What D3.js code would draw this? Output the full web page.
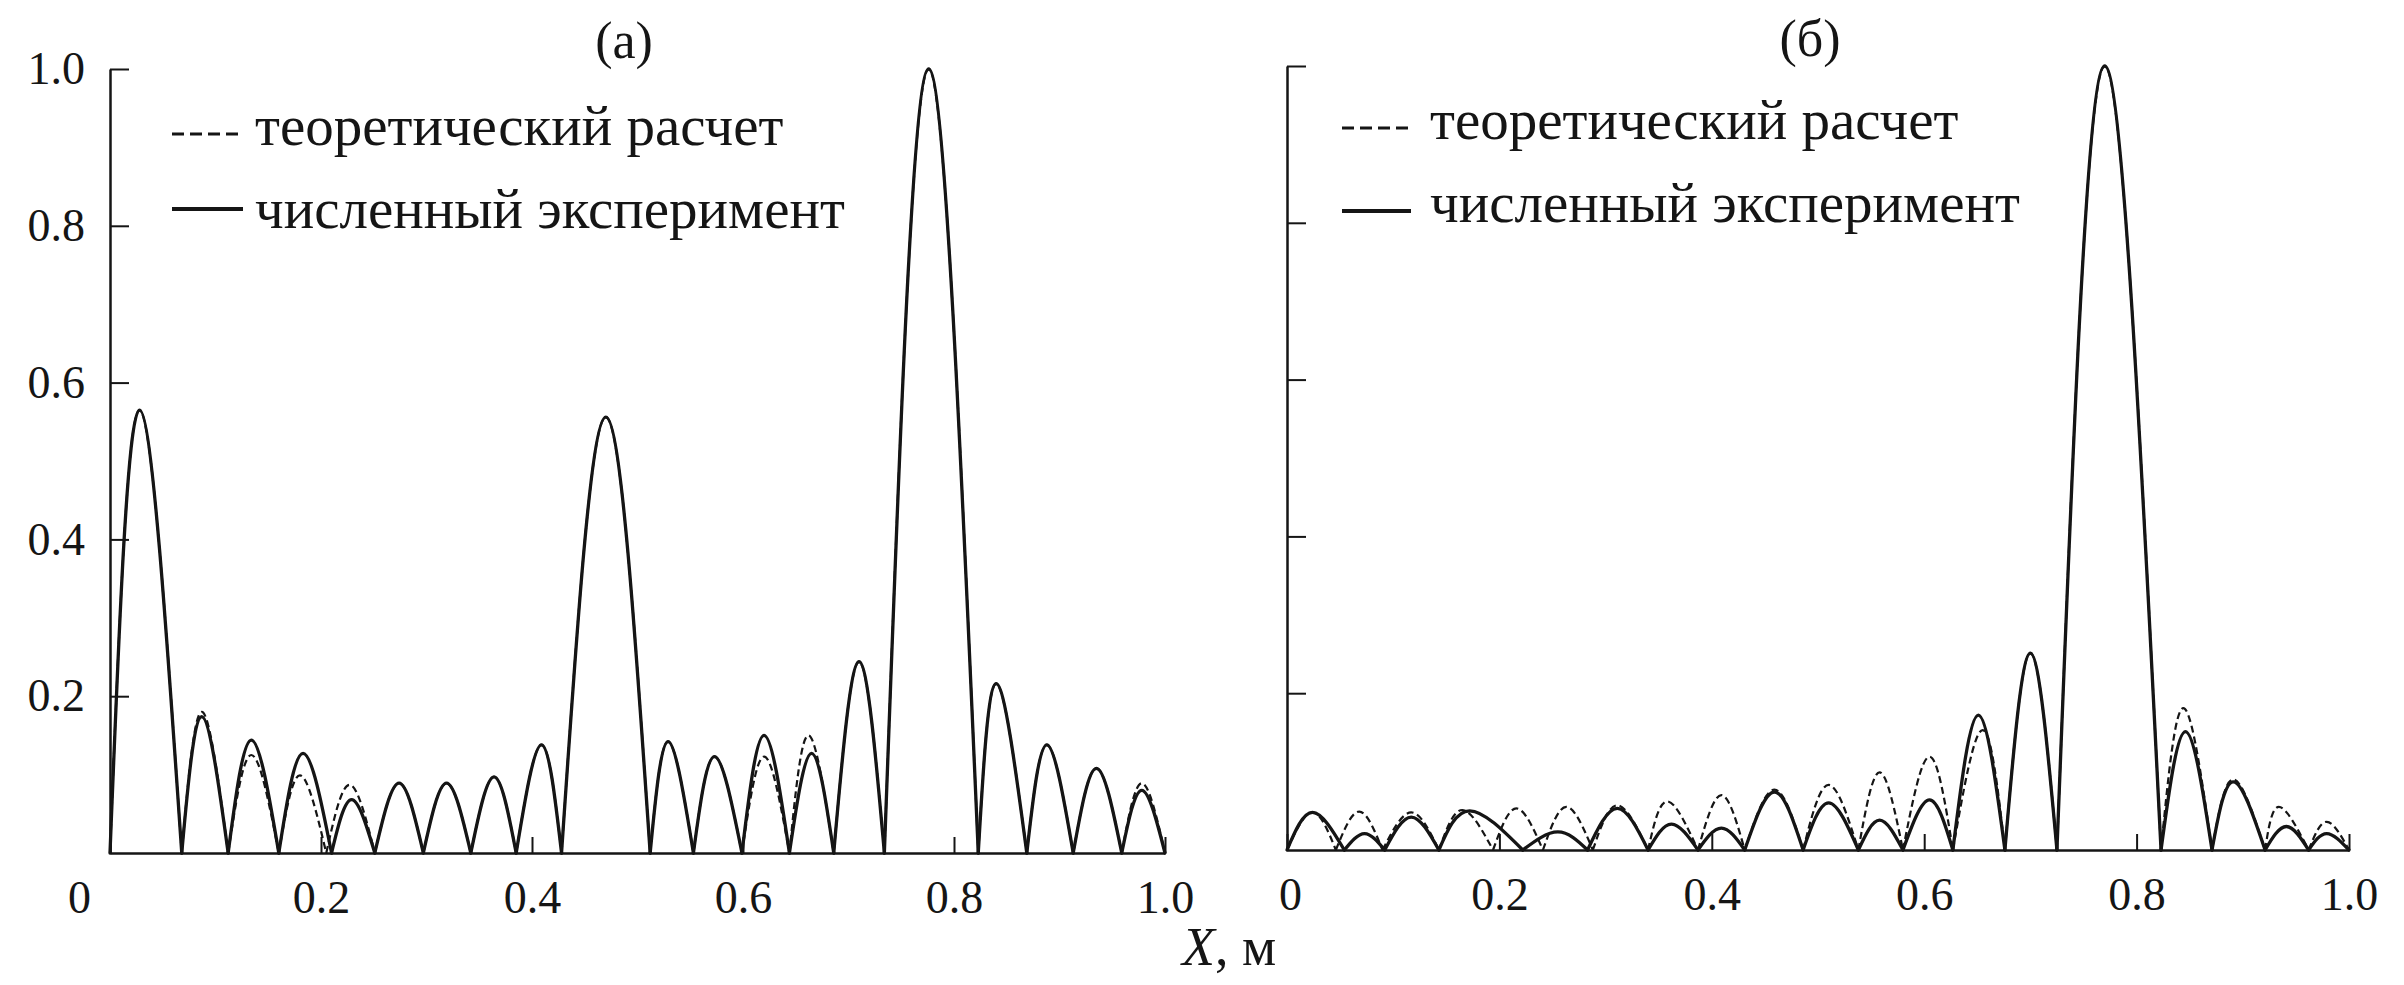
<!DOCTYPE html>
<html><head><meta charset="utf-8">
<script src="https://cdn.jsdelivr.net/npm/d3@7"></script>
<style>
body{margin:0;background:#fff}
svg{display:block}
text{font-family:"Liberation Serif","Times New Roman",serif;fill:#151515}
</style>
</head><body>
<svg id="c" width="2404" height="985"></svg>
<script>
// ---- tick labels / texts ----
const xTicks = [0, 0.2, 0.4, 0.6, 0.8, 1.0];
const yTicks = [0.2, 0.4, 0.6, 0.8, 1.0];
const xTickLabels = ["0", "0.2", "0.4", "0.6", "0.8", "1.0"];
const yTickLabels = ["0.2", "0.4", "0.6", "0.8", "1.0"];
const legendLabels = ["теоретический расчет", "численный эксперимент"];
const panelTitles = ["(а)", "(б)"];
const axisLabelVar = "X";
const axisLabelUnit = ", м";

// ---- panel (а): zeros and lobe peaks ----
const aTheoryZeros = [0, 0.068, 0.112, 0.160, 0.205, 0.251, 0.297, 0.342, 0.385, 0.428, 0.512, 0.553, 0.599, 0.644, 0.686, 0.734, 0.823, 0.869, 0.913, 0.959, 1.0];
const aTheoryPeakX = [0.028, 0.087, 0.134, 0.180, 0.227, 0.274, 0.319, 0.364, 0.409, 0.470, 0.529, 0.573, 0.620, 0.662, 0.710, 0.776, 0.840, 0.888, 0.935, 0.978];
const aTheoryPeakY = [0.565, 0.180, 0.125, 0.099, 0.087, 0.089, 0.089, 0.097, 0.138, 0.556, 0.142, 0.123, 0.123, 0.150, 0.244, 1.0, 0.216, 0.138, 0.108, 0.089];

const aExpZeros = [0, 0.068, 0.112, 0.160, 0.210, 0.251, 0.297, 0.342, 0.385, 0.428, 0.512, 0.553, 0.599, 0.644, 0.686, 0.734, 0.823, 0.869, 0.913, 0.959, 1.0];
const aExpPeakX = [0.028, 0.087, 0.134, 0.183, 0.229, 0.274, 0.319, 0.364, 0.409, 0.470, 0.529, 0.573, 0.620, 0.665, 0.710, 0.776, 0.840, 0.888, 0.935, 0.978];
const aExpPeakY = [0.565, 0.174, 0.144, 0.127, 0.068, 0.089, 0.089, 0.097, 0.138, 0.556, 0.142, 0.123, 0.150, 0.127, 0.244, 1.0, 0.216, 0.138, 0.108, 0.080];

// ---- panel (б): zeros and lobe peaks ----
const bTheoryZeros = [0, 0.046, 0.090, 0.143, 0.194, 0.241, 0.288, 0.340, 0.387, 0.431, 0.486, 0.538, 0.580, 0.627, 0.676, 0.725, 0.823, 0.871, 0.921, 0.962, 1.0];
const bTheoryPeakX = [0.024, 0.068, 0.117, 0.165, 0.216, 0.263, 0.311, 0.358, 0.409, 0.459, 0.510, 0.558, 0.605, 0.655, 0.700, 0.770, 0.844, 0.891, 0.934, 0.979];
const bTheoryPeakY = [0.048, 0.049, 0.048, 0.051, 0.053, 0.055, 0.057, 0.062, 0.070, 0.077, 0.083, 0.099, 0.119, 0.153, 0.251, 1.0, 0.181, 0.090, 0.055, 0.036];

const bExpZeros = [0, 0.054, 0.092, 0.143, 0.222, 0.283, 0.340, 0.387, 0.431, 0.486, 0.538, 0.580, 0.627, 0.676, 0.725, 0.823, 0.871, 0.921, 0.962, 1.0];
const bExpPeakX = [0.024, 0.073, 0.117, 0.172, 0.255, 0.311, 0.362, 0.409, 0.459, 0.510, 0.558, 0.605, 0.651, 0.700, 0.770, 0.846, 0.891, 0.941, 0.979];
const bExpPeakY = [0.048, 0.021, 0.042, 0.050, 0.023, 0.053, 0.033, 0.028, 0.074, 0.060, 0.038, 0.064, 0.172, 0.251, 1.0, 0.151, 0.087, 0.030, 0.021];

// ---- layout ----
const INK = "#151515";
const panels = [
  { title: panelTitles[0], xr: [110, 1165], yr: [853, 69], yLabels: true, zeroDx: -31,
    titleX: 624, titleY: 58,
    theory: [aTheoryZeros, aTheoryPeakX, aTheoryPeakY], exp: [aExpZeros, aExpPeakX, aExpPeakY],
    leg: { x0: 172, x1: 243, tx: 255, r1: 145, r2: 228, d1: 134, d2: 209 } },
  { title: panelTitles[1], xr: [1287, 2349], yr: [850, 66], yLabels: false, zeroDx: 3,
    titleX: 1810, titleY: 56,
    theory: [bTheoryZeros, bTheoryPeakX, bTheoryPeakY], exp: [bExpZeros, bExpPeakX, bExpPeakY],
    leg: { x0: 1342, x1: 1411, tx: 1430, r1: 139, r2: 222, d1: 128, d2: 211 } }
];

const svg = d3.select("#c");
svg.append("rect").attr("width", 2404).attr("height", 985).attr("fill", "#fff");

function lobes(z, px, py) {
  const out = [];
  for (let i = 0; i < px.length; i++) out.push([[z[i], 0], [px[i], py[i]], [z[i + 1], 0]]);
  return out;
}

panels.forEach(p => {
  const x = d3.scaleLinear().domain([0, 1]).range(p.xr);
  const y = d3.scaleLinear().domain([0, 1]).range(p.yr);
  const g = svg.append("g");

  // x axis
  const xAxis = d3.axisBottom(x).tickValues(xTicks)
    .tickFormat((d, i) => xTickLabels[i]).tickSizeInner(-16).tickSizeOuter(0).tickPadding(27);
  const gx = g.append("g").attr("transform", `translate(0,${p.yr[0]})`).call(xAxis);
  gx.select(".domain").attr("stroke", INK).attr("stroke-width", 2.5);
  gx.selectAll(".tick line").attr("stroke", INK).attr("stroke-width", 2);
  gx.selectAll(".tick text").attr("font-size", 46).attr("fill", INK)
    .attr("font-family", "'Liberation Serif', serif")
    .attr("dx", d => d === 0 ? p.zeroDx : 0);

  // y axis
  const yAxis = d3.axisLeft(y).tickValues(yTicks)
    .tickFormat((d, i) => p.yLabels ? yTickLabels[i] : "").tickSizeInner(-19).tickSizeOuter(0).tickPadding(25);
  const gy = g.append("g").attr("transform", `translate(${p.xr[0]},0)`).call(yAxis);
  gy.select(".domain").attr("stroke", INK).attr("stroke-width", 2.5);
  gy.selectAll(".tick line").attr("stroke", INK).attr("stroke-width", 2);
  gy.selectAll(".tick text").attr("font-size", 46).attr("fill", INK)
    .attr("font-family", "'Liberation Serif', serif");

  const line = d3.line().x(d => x(d[0])).y(d => y(d[1])).curve(d3.curveNatural);

  // experiment (solid)
  g.append("g").selectAll("path").data(lobes(...p.exp)).join("path")
    .attr("d", line).attr("fill", "none").attr("stroke", INK)
    .attr("stroke-width", 3.3).attr("stroke-linecap", "round").attr("stroke-linejoin", "round");

  // theory (dashed)
  g.append("g").selectAll("path").data(lobes(...p.theory)).join("path")
    .attr("d", line).attr("fill", "none").attr("stroke", INK)
    .attr("stroke-width", 2.2).attr("stroke-dasharray", "7,4");

  // title
  g.append("text").attr("x", p.titleX).attr("y", p.titleY).attr("text-anchor", "middle")
    .attr("font-size", 52).text(p.title);

  // legend
  const L = p.leg;
  g.append("line").attr("x1", L.x0).attr("x2", L.x1).attr("y1", L.d1).attr("y2", L.d1)
    .attr("stroke", INK).attr("stroke-width", 3).attr("stroke-dasharray", "12,6");
  g.append("line").attr("x1", L.x0).attr("x2", L.x1).attr("y1", L.d2).attr("y2", L.d2)
    .attr("stroke", INK).attr("stroke-width", 4);
  g.append("text").attr("x", L.tx).attr("y", L.r1).attr("font-size", 57).text(legendLabels[0]);
  g.append("text").attr("x", L.tx).attr("y", L.r2).attr("font-size", 57).text(legendLabels[1]);
});

// shared x-axis label
const lab = svg.append("text").attr("x", 1229).attr("y", 965).attr("text-anchor", "middle").attr("font-size", 54);
lab.append("tspan").attr("font-style", "italic").text(axisLabelVar);
lab.append("tspan").text(axisLabelUnit);
</script>
</body></html>
